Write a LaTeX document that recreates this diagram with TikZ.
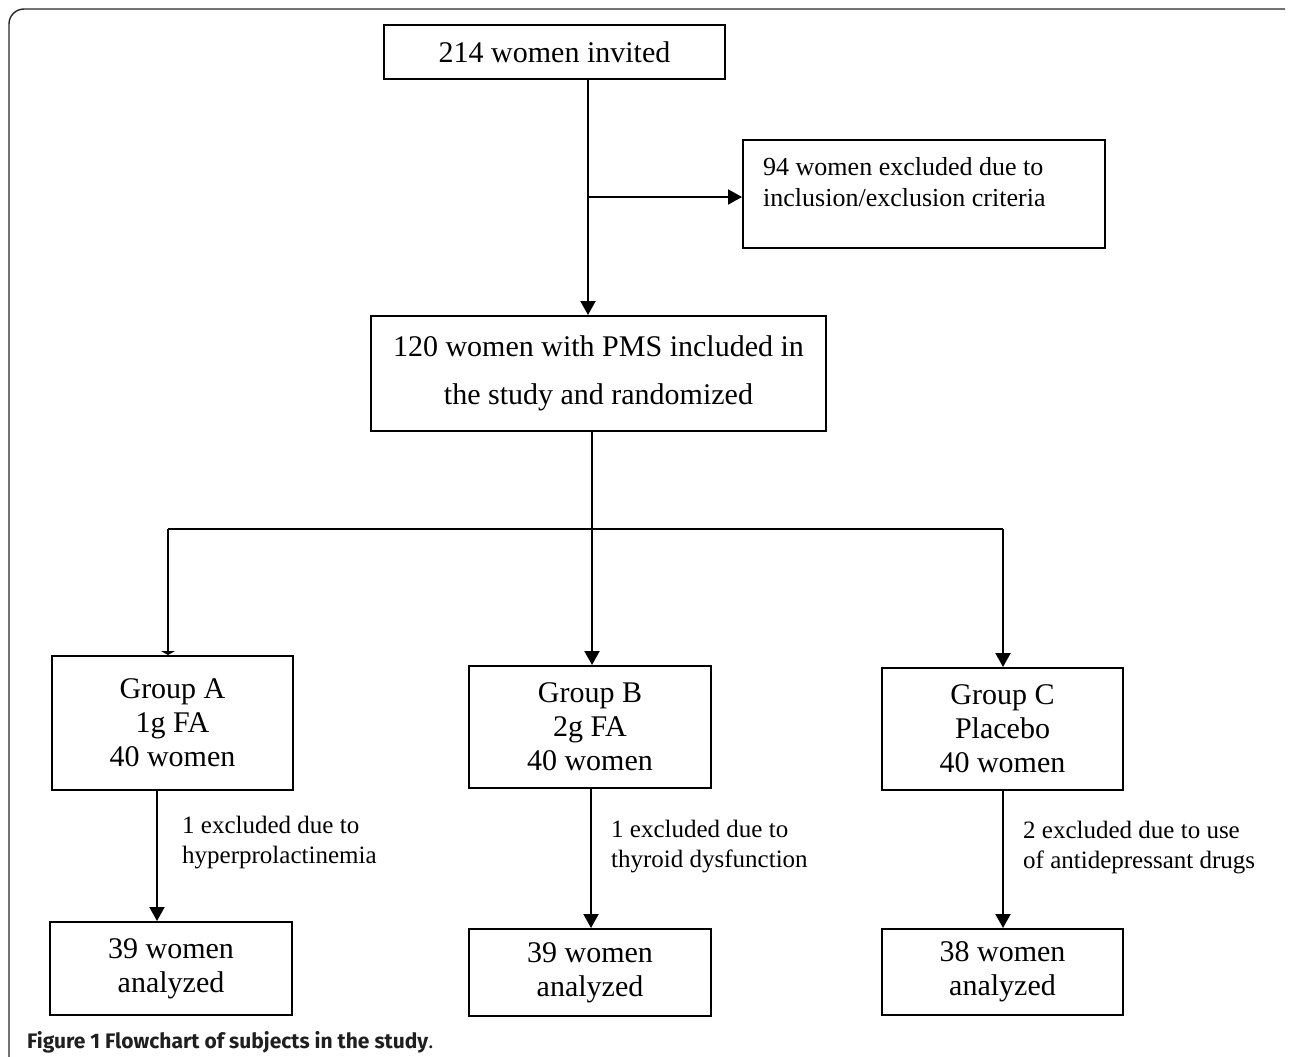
\documentclass[tikz,border=0pt]{standalone}
\usepackage{fontspec}
\setmainfont{Liberation Serif}
\newfontfamily\capfont{Fira Sans}
\usetikzlibrary{arrows.meta,calc}
\tikzset{
  box/.style={draw, line width=2pt, inner sep=0pt, align=center, font=\fontsize{30}{34}\selectfont},
  lbl/.style={anchor=west, inner sep=0pt, align=left, font=\fontsize{25}{30}\selectfont},
  conn/.style={line width=2pt},
  arr/.style={line width=2pt, -{Triangle[length=14pt,width=15pt]}},
  flatarr/.style={line width=2pt, -{Triangle[length=4pt,width=14pt]}}
}
\begin{document}
\begin{tikzpicture}[x=1pt,y=-1pt]
\useasboundingbox (0,0) rectangle (1290,1057);
% frame
\draw[line width=1.4pt, color=black!85] (9,1057) -- (9,24) arc[start angle=180,end angle=270,radius=15] -- (1285,9);
% boxes
\node[box, minimum width=341, minimum height=54] (top) at (554.5,52) {214 women invited};
\node[box, minimum width=362, minimum height=108] (ex) at (924,194) {};
\node[lbl, font=\fontsize{26}{31}\selectfont] (extext) at (763,182.5) {94 women excluded due to\\inclusion/exclusion criteria};
\node[box, minimum width=455, minimum height=115, font=\fontsize{30}{48}\selectfont] (incl) at (598.5,373.5) {120 women with PMS included in\\the study and randomized};
\node[box, minimum width=241, minimum height=134, text depth=0pt] (ga) at (172.5,723) {Group A\\1g FA\\40 women};
\node[box, minimum width=242, minimum height=122] (gb) at (590,727) {Group B\\2g FA\\40 women};
\node[box, minimum width=241, minimum height=122] (gc) at (1002.5,729) {Group C\\Placebo\\40 women};
\node[box, minimum width=242, minimum height=93] (ra) at (171,968.5) {39 women\\analyzed};
\node[box, minimum width=242, minimum height=87] (rb) at (590,972.5) {39 women\\analyzed};
\node[box, minimum width=241, minimum height=86] (rc) at (1002.5,972) {38 women\\analyzed};
% coordinates
\coordinate (v1) at (588,197);
\coordinate (v2) at (592,529);
\coordinate (la) at (168,529);
\coordinate (lc) at (1003,529);
\coordinate (xa) at (157,0);
\coordinate (xb) at (591,0);
\coordinate (xc) at (1003,0);
% connectors
\draw[arr] (v1 |- top.south) -- (v1 |- incl.north);
\draw[arr] (v1) -- (v1 -| ex.west);
\draw[conn] (v2 |- incl.south) -- (v2);
\draw[conn] (la) -- (lc);
\draw[flatarr] (la) -- (la |- ga.north);
\draw[arr] (v2) -- (v2 |- gb.north);
\draw[arr] (lc) -- (lc |- gc.north);
\draw[arr] (xa |- ga.south) -- (xa |- ra.north);
\draw[arr] (xb |- gb.south) -- (xb |- rb.north);
\draw[arr] (xc |- gc.south) -- (xc |- rc.north);
% labels
\node[lbl] (lbla) at (182,843) {1 excluded due to\\hyperprolactinemia};
\node[lbl] (lblb) at (611,846.5) {1 excluded due to\\thyroid dysfunction};
\node[lbl] (lblc) at (1023,848) {2 excluded due to use\\of antidepressant drugs};
% caption
\node[anchor=base west, inner sep=0pt, text=black!88, font=\capfont\fontsize{21}{24}\selectfont] (cap) at (27,1048) {\textbf{Figure 1 Flowchart of subjects in the study}.};
\end{tikzpicture}
\end{document}
